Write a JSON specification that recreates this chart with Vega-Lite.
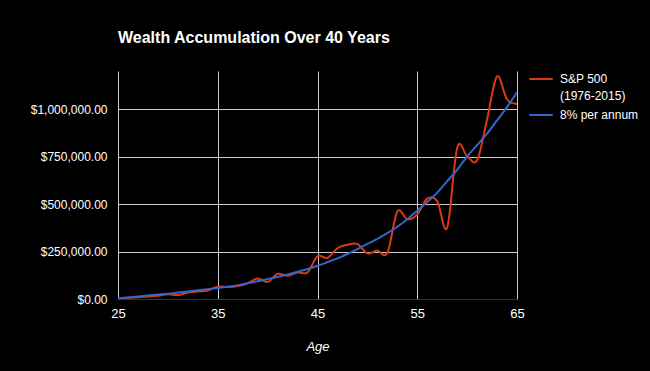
{
  "$schema": "https://vega.github.io/schema/vega-lite/v6.json",
  "autosize": "none",
  "width": 399,
  "height": 228,
  "padding": {"left": 118, "top": 71, "right": 133, "bottom": 72},
  "background": "#000000",
  "config": {
    "font": "Liberation Sans",
    "view": {"stroke": null},
    "axis": {"labelColor": "#ffffff", "titleColor": "#ffffff", "labelFont": "Liberation Sans", "titleFont": "Liberation Sans"}
  },
  "title": {
    "text": "Wealth Accumulation Over 40 Years",
    "anchor": "start",
    "frame": "group",
    "color": "#ffffff",
    "font": "Liberation Sans",
    "fontSize": 16,
    "fontWeight": "bold",
    "offset": 20
  },
  "data": {
    "values": [
      {"age": 25, "S&P 500 (1976-2015)": 4000, "8% per annum": 4000},
      {"age": 26, "S&P 500 (1976-2015)": 6000, "8% per annum": 8000},
      {"age": 27, "S&P 500 (1976-2015)": 9000, "8% per annum": 13000},
      {"age": 28, "S&P 500 (1976-2015)": 13000, "8% per annum": 18000},
      {"age": 29, "S&P 500 (1976-2015)": 17000, "8% per annum": 23000},
      {"age": 30, "S&P 500 (1976-2015)": 25000, "8% per annum": 28000},
      {"age": 31, "S&P 500 (1976-2015)": 21000, "8% per annum": 34000},
      {"age": 32, "S&P 500 (1976-2015)": 34000, "8% per annum": 40000},
      {"age": 33, "S&P 500 (1976-2015)": 40000, "8% per annum": 46000},
      {"age": 34, "S&P 500 (1976-2015)": 45000, "8% per annum": 52000},
      {"age": 35, "S&P 500 (1976-2015)": 65000, "8% per annum": 58000},
      {"age": 36, "S&P 500 (1976-2015)": 63000, "8% per annum": 65000},
      {"age": 37, "S&P 500 (1976-2015)": 68000, "8% per annum": 73000},
      {"age": 38, "S&P 500 (1976-2015)": 83000, "8% per annum": 83000},
      {"age": 39, "S&P 500 (1976-2015)": 108000, "8% per annum": 93000},
      {"age": 40, "S&P 500 (1976-2015)": 90000, "8% per annum": 105000},
      {"age": 41, "S&P 500 (1976-2015)": 132000, "8% per annum": 116000},
      {"age": 42, "S&P 500 (1976-2015)": 123000, "8% per annum": 129000},
      {"age": 43, "S&P 500 (1976-2015)": 140000, "8% per annum": 143000},
      {"age": 44, "S&P 500 (1976-2015)": 140000, "8% per annum": 158000},
      {"age": 45, "S&P 500 (1976-2015)": 225000, "8% per annum": 175000},
      {"age": 46, "S&P 500 (1976-2015)": 216000, "8% per annum": 194000},
      {"age": 47, "S&P 500 (1976-2015)": 267000, "8% per annum": 214000},
      {"age": 48, "S&P 500 (1976-2015)": 285000, "8% per annum": 237000},
      {"age": 49, "S&P 500 (1976-2015)": 290000, "8% per annum": 262000},
      {"age": 50, "S&P 500 (1976-2015)": 240000, "8% per annum": 290000},
      {"age": 51, "S&P 500 (1976-2015)": 255000, "8% per annum": 317000},
      {"age": 52, "S&P 500 (1976-2015)": 242000, "8% per annum": 347000},
      {"age": 53, "S&P 500 (1976-2015)": 460000, "8% per annum": 380000},
      {"age": 54, "S&P 500 (1976-2015)": 420000, "8% per annum": 420000},
      {"age": 55, "S&P 500 (1976-2015)": 445000, "8% per annum": 465000},
      {"age": 56, "S&P 500 (1976-2015)": 528000, "8% per annum": 510000},
      {"age": 57, "S&P 500 (1976-2015)": 515000, "8% per annum": 560000},
      {"age": 58, "S&P 500 (1976-2015)": 375000, "8% per annum": 620000},
      {"age": 59, "S&P 500 (1976-2015)": 795000, "8% per annum": 680000},
      {"age": 60, "S&P 500 (1976-2015)": 752000, "8% per annum": 750000},
      {"age": 61, "S&P 500 (1976-2015)": 730000, "8% per annum": 810000},
      {"age": 62, "S&P 500 (1976-2015)": 945000, "8% per annum": 870000},
      {"age": 63, "S&P 500 (1976-2015)": 1172000, "8% per annum": 940000},
      {"age": 64, "S&P 500 (1976-2015)": 1050000, "8% per annum": 1010000},
      {"age": 65, "S&P 500 (1976-2015)": 1028000, "8% per annum": 1088000}
    ]
  },
  "transform": [
    {"fold": ["S&P 500 (1976-2015)", "8% per annum"], "as": ["series", "value"]}
  ],
  "mark": {"type": "line", "interpolate": "cardinal", "strokeWidth": 2},
  "encoding": {
    "x": {
      "field": "age",
      "type": "quantitative",
      "scale": {"domain": [25, 65], "nice": false},
      "axis": {
        "values": [25, 35, 45, 55, 65],
        "title": "Age",
        "titleFontStyle": "italic",
        "titleFontWeight": "normal",
        "titleFontSize": 13,
        "titlePadding": 20,
        "labelFontSize": 13,
        "labelPadding": 8,
        "labelFlush": false,
        "domain": false,
        "ticks": false,
        "grid": true,
        "gridColor": "#cccccc",
        "gridOpacity": 1
      }
    },
    "y": {
      "field": "value",
      "type": "quantitative",
      "scale": {"domain": [0, 1200000], "nice": false},
      "axis": {
        "values": [0, 250000, 500000, 750000, 1000000],
        "format": "$,.2f",
        "title": null,
        "labelFontSize": 12,
        "labelPadding": 11,
        "domain": false,
        "ticks": false,
        "grid": true,
        "gridColor": {"condition": {"test": "datum.value == 0", "value": "#333333"}, "value": "#cccccc"},
        "gridOpacity": 1
      }
    },
    "color": {
      "field": "series",
      "type": "nominal",
      "scale": {"domain": ["S&P 500 (1976-2015)", "8% per annum"], "range": ["#dc3912", "#3366cc"]},
      "legend": {
        "title": null,
        "orient": "none",
        "legendX": 410,
        "legendY": -5,
        "padding": 0,
        "symbolType": "stroke",
        "symbolSize": 550,
        "symbolStrokeWidth": 2,
        "labelColor": "#ffffff",
        "labelFontSize": 12,
        "labelFont": "Liberation Sans",
        "labelOffset": 6,
        "rowPadding": -8,
        "labelExpr": "datum.label == 'S&P 500 (1976-2015)' ? ['S&P 500', '(1976-2015)'] : datum.label",
        "encode": {"labels": {"update": {"lineHeight": {"value": 17}}}}
      }
    }
  }
}
